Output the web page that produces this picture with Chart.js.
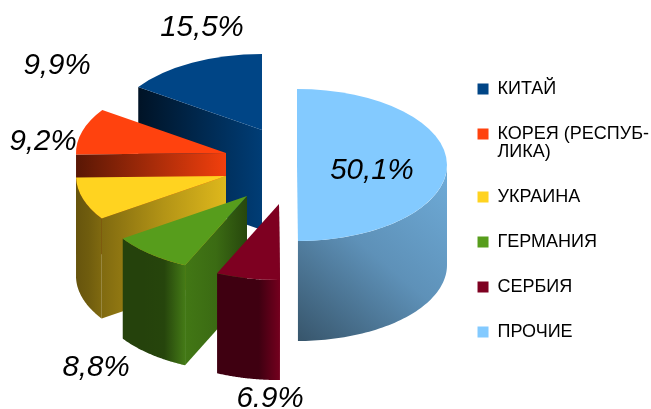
<!DOCTYPE html>
<html>
<head>
<meta charset="utf-8">
<style>
  html, body { margin: 0; padding: 0; background: #fff; }
  canvas { display: block; }
</style>
<script src="https://cdn.jsdelivr.net/npm/chart.js@4/dist/chart.umd.min.js"></script>
</head>
<body>
<canvas id="pie" width="651" height="409"></canvas>
<script>
// Chart data
const categories = ['КИТАЙ', ['КОРЕЯ (РЕСПУБ-', 'ЛИКА)'], 'УКРАИНА', 'ГЕРМАНИЯ', 'СЕРБИЯ', 'ПРОЧИЕ'];
const shares = [15.5, 9.9, 9.2, 8.8, 6.9, 50.1];
const shareLabels = ['15,5%', '9,9%', '9,2%', '8,8%', '6.9%', '50,1%'];

// Look of the fake 3D pie
const sliceColors = ['#004586', '#ff420e', '#ffd320', '#579d1c', '#7e0021', '#83caff'];
const pieCenter = { x: 262, y: 165 };
const squash = 0.507;
const depth = 100;
const explode = [[0, -35], [-36, -12], [-36, 11], [-15, 31], [17, 39], [35, 0]];
const labelSpots = [[202, 28], [57, 66], [43, 142], [96, 368], [270, 399], [372, 171]];
// shade stops, left to right, as a fraction of the slice colour
const wallShades = [
  [0.3, 0.3], [0.4, 0.4], [0.4, 0.44, 0.5], [0.42, 0.42, 0.44, 0.78], [0.5, 0.5, 0.5, 0.92], [0.42, 0.72, 0.85]
];
const faceShades = [
  [0.28, 0.88], [0.35, 0.95], [0.5, 0.7, 0.87], [0.76, 0.68, 0.45], [0.9, 0.9], [0.9, 0.9]
];

function shade(hex, f) {
  const n = parseInt(hex.slice(1), 16);
  const c = [n >> 16, (n >> 8) & 255, n & 255].map(v => Math.round(v * f));
  return `rgb(${c[0]},${c[1]},${c[2]})`;
}

function fillShaded(ctx, pts, color, stops, diagonal) {
  const xs = pts.map(p => p[0]);
  const ys = pts.map(p => p[1]);
  const minX = Math.min(...xs), maxX = Math.max(...xs);
  const g = diagonal
    ? ctx.createLinearGradient(minX, Math.max(...ys), maxX, Math.min(...ys))
    : ctx.createLinearGradient(minX, 0, maxX, 0);
  stops.forEach((f, i) => g.addColorStop(i / (stops.length - 1), shade(color, f)));
  ctx.fillStyle = g;
  ctx.beginPath();
  pts.forEach((p, i) => i ? ctx.lineTo(p[0], p[1]) : ctx.moveTo(p[0], p[1]));
  ctx.closePath();
  ctx.fill();
}

const pie3d = {
  id: 'pie3d',
  beforeDatasetsDraw(chart) {
    const ctx = chart.ctx;
    chart.getDatasetMeta(0).data.forEach((arc, i) => {
      const cx = pieCenter.x + explode[i][0];
      const cy = pieCenter.y + explode[i][1];
      const r = arc.outerRadius;
      // chart runs clockwise, the picture counter clockwise, so mirror x
      const point = a => [cx - r * Math.cos(a), cy + r * squash * Math.sin(a)];
      const color = sliceColors[i];

      // cut side at the end of the slice
      const tip = point(arc.endAngle);
      fillShaded(ctx, [[cx, cy], tip, [tip[0], tip[1] + depth], [cx, cy + depth]], color, faceShades[i]);

      // outer wall, only the part of the rim facing us
      const from = Math.max(arc.startAngle, 0);
      const to = Math.min(arc.endAngle, Math.PI);
      if (to > from) {
        const rim = [];
        for (let k = 0; k <= 60; k++) rim.push(point(from + (to - from) * k / 60));
        const lower = rim.map(p => [p[0], p[1] + depth]).reverse();
        fillShaded(ctx, rim.concat(lower), color, wallShades[i], i === 5);
      }

      // top face is the library's own arc, moved and flattened
      ctx.save();
      ctx.translate(cx, cy);
      ctx.scale(-1, squash);
      ctx.translate(-arc.x, -arc.y);
      arc.draw(ctx);
      ctx.restore();
    });

    ctx.save();
    ctx.font = 'italic 29.5px "Liberation Sans"';
    ctx.fillStyle = '#000';
    ctx.textAlign = 'center';
    ctx.textBaseline = 'middle';
    shareLabels.forEach((t, i) => ctx.fillText(t, labelSpots[i][0], labelSpots[i][1]));
    ctx.restore();
    return false;
  }
};

new Chart(document.getElementById('pie'), {
  type: 'doughnut',
  data: {
    labels: categories,
    datasets: [{
      data: shares,
      backgroundColor: sliceColors,
      borderWidth: 0,
      radius: 150,
      cutout: 0
    }]
  },
  options: {
    responsive: false,
    animation: false,
    layout: { padding: { top: 53, right: -8, bottom: 0, left: 0 } },
    plugins: {
      tooltip: { enabled: false },
      legend: {
        position: 'right',
        align: 'start',
        labels: {
          boxWidth: 11,
          boxHeight: 11,
          padding: 27,
          color: '#000',
          font: { family: '"Liberation Sans"', size: 18, lineHeight: 1 }
        }
      }
    }
  },
  plugins: [pie3d]
});
</script>
</body>
</html>
